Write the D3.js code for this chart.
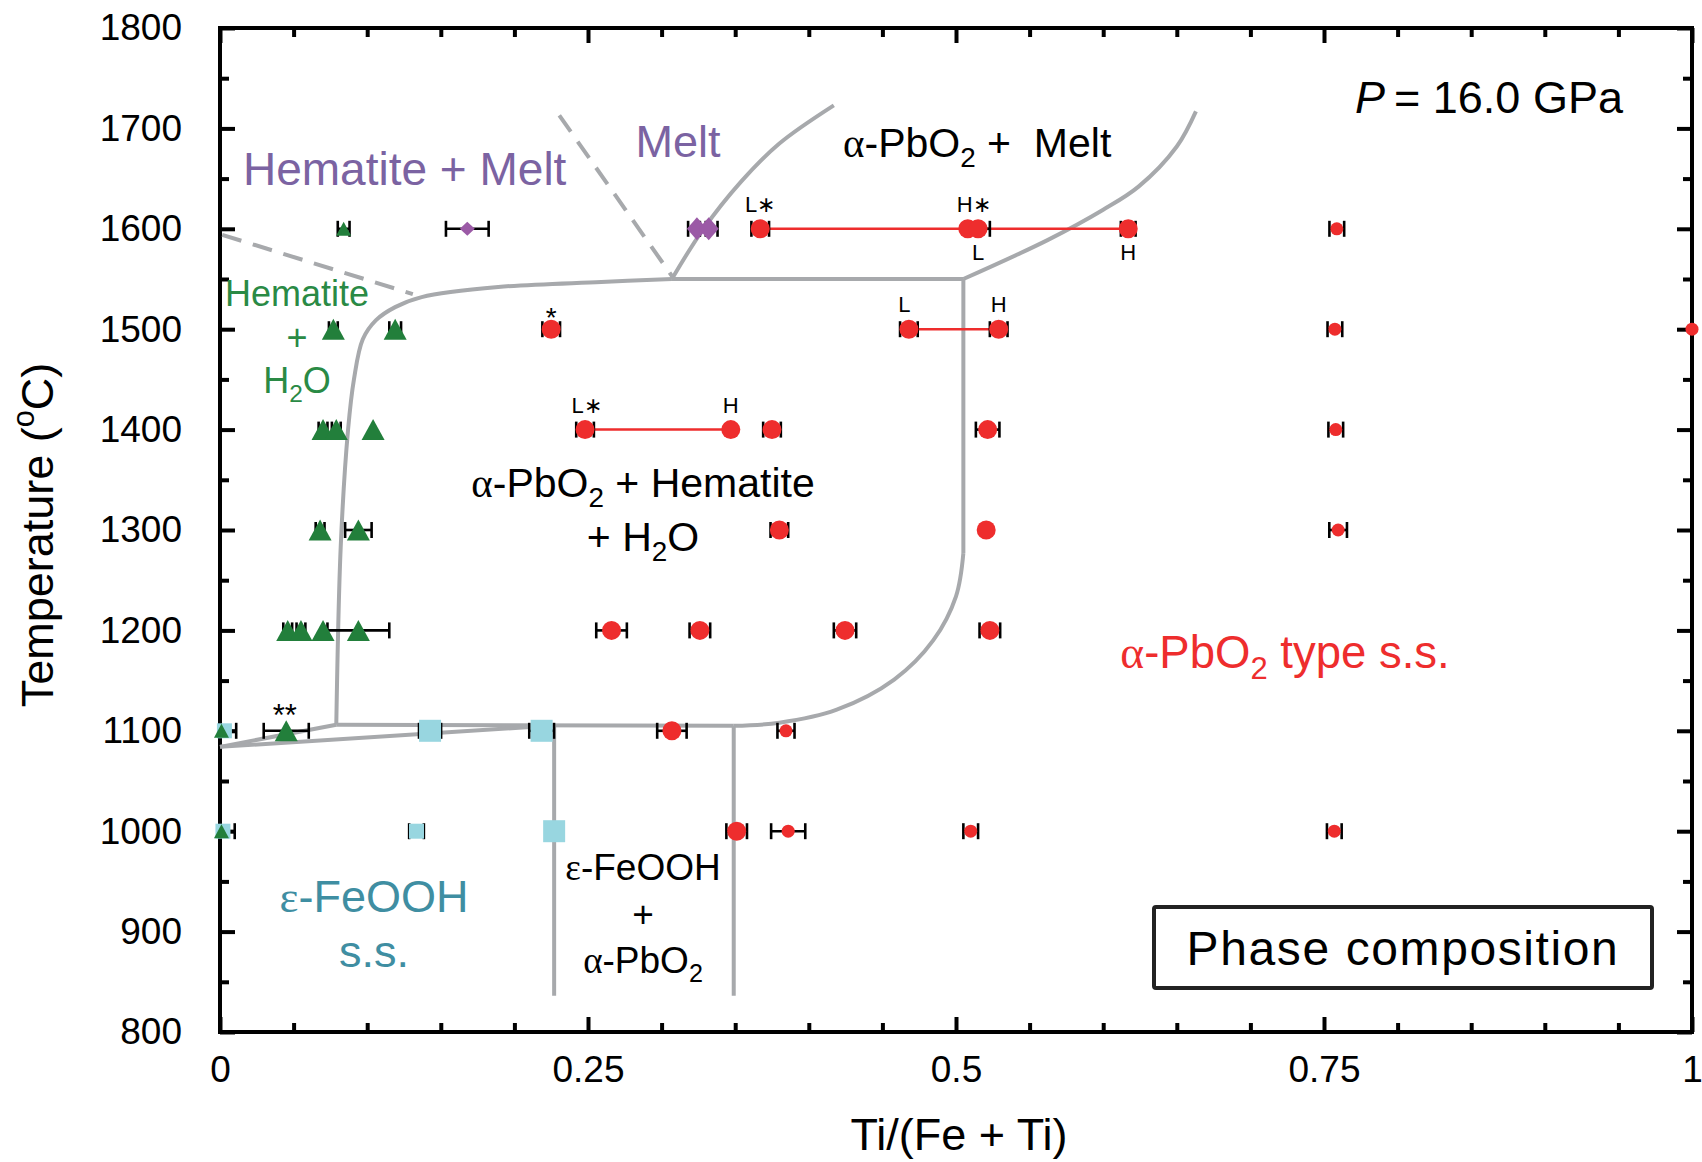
<!DOCTYPE html>
<html>
<head>
<meta charset="utf-8">
<script src="https://cdn.jsdelivr.net/npm/d3@7"></script>
<style>
  body { margin: 0; background: #fff; }
  svg text { font-family: "Liberation Sans", Arial, Helvetica, sans-serif; }
</style>
</head>
<body>
<div id="chart"></div>
<script>
// phase diagram of FeOOH - TiO2 at 16 GPa

var xMajor = [0, 0.25, 0.5, 0.75, 1];
var yMajor = [800, 900, 1000, 1100, 1200, 1300, 1400, 1500, 1600, 1700, 1800];

// points as [Ti/(Fe+Ti), T, x error]
var hematiteBig = [
    [0.077, 1500, 0.003], [0.119, 1500, 0.004],
    [0.070, 1400, 0.003], [0.079, 1400, 0.003], [0.104, 1400, 0],
    [0.068, 1300, 0.003], [0.094, 1300, 0.009],
    [0.046, 1200, 0.003], [0.055, 1200, 0.003], [0.070, 1200, 0], [0.094, 1200, 0.021],
    [0.045, 1100, 0.0153]
];
var hematiteSmall = [[0.084, 1600, 0.004], [0.001, 1100, 0], [0.001, 1000, 0]];

var meltBig = [[0.324, 1600, 0.006], [0.332, 1600, 0.006]];
var meltSmall = [[0.168, 1600, 0.0145]];

var epsBig = [[0.1427, 1100, 0.0075], [0.2185, 1100, 0.0084], [0.227, 1000, 0]];
var epsSmall = [[0.003, 1100, 0.008], [0.002, 1000, 0.008], [0.1335, 1000, 0.005]];

var alphaBig = [
    [0.367, 1600, 0.006], [0.508, 1600, 0], [0.515, 1600, 0.008], [0.617, 1600, 0.005],
    [0.225, 1500, 0.006], [0.468, 1500, 0.006], [0.529, 1500, 0.006],
    [0.248, 1400, 0.006], [0.347, 1400, 0], [0.375, 1400, 0.006], [0.5215, 1400, 0.008],
    [0.380, 1300, 0.006], [0.5205, 1300, 0],
    [0.266, 1200, 0.0104], [0.326, 1200, 0.007], [0.4246, 1200, 0.0076], [0.523, 1200, 0.007],
    [0.307, 1100, 0.01],
    [0.351, 1000, 0.007]
];
var alphaSmall = [
    [0.7587, 1600, 0.005], [0.7574, 1500, 0.005], [1.0, 1500, 0],
    [0.758, 1400, 0.005], [0.7596, 1300, 0.006],
    [0.3845, 1100, 0.0058],
    [0.386, 1000, 0.0116], [0.510, 1000, 0.005], [0.757, 1000, 0.005]
];

// tie lines [x1, x2, T]
var tieLines = [[0.367, 0.508, 1600], [0.515, 0.617, 1600], [0.468, 0.529, 1500], [0.248, 0.347, 1400]];

// point notes [x, T, text, side]
var notes = [
    [0.367, 1600, "L\u2217", "up"], [0.512, 1600, "H\u2217", "up"],
    [0.515, 1600, "L", "down"], [0.617, 1600, "H", "down"],
    [0.465, 1500, "L", "up"], [0.529, 1500, "H", "up"],
    [0.249, 1400, "L\u2217", "up"], [0.347, 1400, "H", "up"]
];
var starNotes = [[0.225, 1500, "*"], [0.044, 1100, "**"]];

// phase boundaries [x, T]
var hemBoundary = [[0.079, 1106], [0.082, 1283], [0.087, 1400], [0.091, 1450], [0.097, 1490],
    [0.106, 1509], [0.119, 1522], [0.137, 1532], [0.189, 1542], [0.259, 1547], [0.307, 1550]];
var solidus = [[0.307, 1550], [0.505, 1550]];
var meltBoundary = [[0.307, 1550], [0.328, 1599], [0.354, 1647], [0.380, 1685], [0.417, 1723]];
var alphaMeltBoundary = [[0.505, 1550], [0.5625, 1589], [0.600, 1619], [0.624, 1642], [0.650, 1682], [0.663, 1717]];
var rightVertical = [[0.505, 1550], [0.505, 1277]];
var rightCurve = [[0.505, 1277], [0.500, 1234], [0.4845, 1190], [0.458, 1151], [0.419, 1121], [0.380, 1108], [0.349, 1105]];
var bottom1100 = [[0.079, 1106], [0.349, 1105]];
var lowLeft1 = [[0, 1084], [0.079, 1106]];
var lowLeft2 = [[0, 1084], [0.213, 1104]];
var epsVertical1 = [[0.227, 1104], [0.227, 836]];
var epsVertical2 = [[0.349, 1105], [0.349, 836]];
var dashHem = [[0.0015, 1594], [0.131, 1535]];
var dashMelt = [[0.2305, 1713], [0.3075, 1552]];

var width = 1702, height = 1162;
var red = "#ee2d2d", green = "#227f3b", purple = "#9b5aa6", cyan = "#98d6e0", grey = "#a7a9ac";

var svg = d3.select("#chart").append("svg")
    .attr("width", width)
    .attr("height", height);

var x = d3.scaleLinear().domain([0, 1]).range([220, 1692]);
var y = d3.scaleLinear().domain([800, 1800]).range([1032, 28]);

svg.append("clipPath").attr("id", "plotclip").append("rect")
    .attr("x", x(0)).attr("y", y(1800))
    .attr("width", x(1) - x(0)).attr("height", y(800) - y(1800));

// axes (ticks point inward)
var xMinor = d3.range(0, 1.0001, 0.05).filter(function (d) { return Math.abs(d * 4 - Math.round(d * 4)) > 1e-6; });
var yMinor = d3.range(850, 1800, 100);

function styleAxis(g) {
    g.select(".domain").remove();
    g.selectAll(".tick line").attr("stroke", "#000").attr("stroke-width", 4);
    g.selectAll(".tick text").attr("fill", "#000").style("font-size", "37px");
}

svg.append("g").attr("transform", "translate(0," + y(800) + ")")
    .call(d3.axisBottom(x).tickValues(xMajor).tickSize(-15).tickPadding(24).tickFormat(function (d) { return String(d); }))
    .call(styleAxis);
svg.append("g").attr("transform", "translate(0," + y(800) + ")")
    .call(d3.axisBottom(x).tickValues(xMinor).tickSize(-9).tickFormat(""))
    .call(styleAxis);
svg.append("g").attr("transform", "translate(0," + y(1800) + ")")
    .call(d3.axisTop(x).tickValues(xMajor).tickSize(-15).tickFormat(""))
    .call(styleAxis);
svg.append("g").attr("transform", "translate(0," + y(1800) + ")")
    .call(d3.axisTop(x).tickValues(xMinor).tickSize(-9).tickFormat(""))
    .call(styleAxis);
svg.append("g").attr("transform", "translate(" + x(0) + ",0)")
    .call(d3.axisLeft(y).tickValues(yMajor).tickSize(-15).tickPadding(38).tickFormat(d3.format("d")))
    .call(styleAxis);
svg.append("g").attr("transform", "translate(" + x(0) + ",0)")
    .call(d3.axisLeft(y).tickValues(yMinor).tickSize(-9).tickFormat(""))
    .call(styleAxis);
svg.append("g").attr("transform", "translate(" + x(1) + ",0)")
    .call(d3.axisRight(y).tickValues(yMajor).tickSize(-15).tickFormat(""))
    .call(styleAxis);
svg.append("g").attr("transform", "translate(" + x(1) + ",0)")
    .call(d3.axisRight(y).tickValues(yMinor).tickSize(-9).tickFormat(""))
    .call(styleAxis);

svg.append("rect")
    .attr("x", x(0)).attr("y", y(1800))
    .attr("width", x(1) - x(0)).attr("height", y(800) - y(1800))
    .attr("fill", "none").attr("stroke", "#000").attr("stroke-width", 4);

// phase boundaries
var curve = d3.line().x(function (d) { return x(d[0]); }).y(function (d) { return y(d[1]); })
    .curve(d3.curveCatmullRom.alpha(0.5));
var straight = d3.line().x(function (d) { return x(d[0]); }).y(function (d) { return y(d[1]); });

var bounds = svg.append("g").attr("fill", "none").attr("stroke", grey).attr("stroke-width", 4);
[hemBoundary, meltBoundary, alphaMeltBoundary, rightCurve].forEach(function (b) {
    bounds.append("path").attr("d", curve(b));
});
[solidus, rightVertical, bottom1100, lowLeft1, lowLeft2, epsVertical1, epsVertical2].forEach(function (b) {
    bounds.append("path").attr("d", straight(b));
});
[dashHem, dashMelt].forEach(function (b) {
    bounds.append("path").attr("d", straight(b)).attr("stroke-dasharray", "20,12");
});

// tie lines
svg.append("g").selectAll("line").data(tieLines).enter().append("line")
    .attr("x1", function (d) { return x(d[0]); })
    .attr("x2", function (d) { return x(d[1]); })
    .attr("y1", function (d) { return y(d[2]); })
    .attr("y2", function (d) { return y(d[2]); })
    .attr("stroke", red).attr("stroke-width", 2.5);

// error bars
var allPts = [].concat(epsBig, epsSmall, hematiteBig, hematiteSmall, meltBig, meltSmall, alphaBig, alphaSmall)
    .filter(function (d) { return d[2] > 0; });
var eb = svg.append("g").attr("stroke", "#000").attr("stroke-width", 2.6)
    .attr("clip-path", "url(#plotclip)");
allPts.forEach(function (d) {
    var cy = y(d[1]), x1 = x(d[0] - d[2]), x2 = x(d[0] + d[2]);
    eb.append("line").attr("x1", x1).attr("x2", x2).attr("y1", cy).attr("y2", cy);
    eb.append("line").attr("x1", x1).attr("x2", x1).attr("y1", cy - 8).attr("y2", cy + 8);
    eb.append("line").attr("x1", x2).attr("x2", x2).attr("y1", cy - 8).attr("y2", cy + 8);
});

// markers
function shapePath(shape, w, h) {
    var p = d3.path();
    if (shape === "circle") {
        p.arc(0, 0, w / 2, 0, 2 * Math.PI);
    } else if (shape === "triangle") {
        p.moveTo(0, -h / 2); p.lineTo(w / 2, h / 2); p.lineTo(-w / 2, h / 2); p.closePath();
    } else if (shape === "diamond") {
        p.moveTo(0, -h / 2); p.lineTo(w / 2, 0); p.lineTo(0, h / 2); p.lineTo(-w / 2, 0); p.closePath();
    } else {
        p.rect(-w / 2, -h / 2, w, h);
    }
    return p.toString();
}

var series = [
    { data: epsBig, shape: "square", w: 22, h: 22, color: cyan },
    { data: epsSmall, shape: "square", w: 15, h: 15, color: cyan },
    { data: hematiteBig, shape: "triangle", w: 23, h: 21, color: green },
    { data: hematiteSmall, shape: "triangle", w: 15, h: 14, color: green },
    { data: meltSmall, shape: "diamond", w: 15, h: 14, color: purple },
    { data: meltBig, shape: "diamond", w: 20, h: 23, color: purple },
    { data: alphaBig, shape: "circle", w: 19, h: 19, color: red },
    { data: alphaSmall, shape: "circle", w: 13, h: 13, color: red }
];
series.forEach(function (s) {
    svg.append("g").selectAll("path").data(s.data).enter().append("path")
        .attr("d", shapePath(s.shape, s.w, s.h))
        .attr("transform", function (d) { return "translate(" + x(d[0]) + "," + y(d[1]) + ")"; })
        .attr("fill", s.color);
});

// small notes near points
svg.append("g").selectAll("text").data(notes).enter().append("text")
    .attr("x", function (d) { return x(d[0]); })
    .attr("y", function (d) { return y(d[1]) + (d[3] === "up" ? -17 : 31); })
    .attr("text-anchor", "middle")
    .style("font-size", "22px")
    .text(function (d) { return d[2]; });
svg.append("g").selectAll("text").data(starNotes).enter().append("text")
    .attr("x", function (d) { return x(d[0]); })
    .attr("y", function (d) { return y(d[1]) - (d[2].length > 1 ? 5 : 2); })
    .attr("text-anchor", "middle")
    .style("font-size", function (d) { return d[2].length > 1 ? "31px" : "28px"; })
    .text(function (d) { return d[2]; });

// rich text helper: lines of segments [text, kind]
function rich(px, py, size, color, anchor, lines, lineGap, rotate) {
    var t = svg.append("text")
        .attr("text-anchor", anchor)
        .attr("fill", color)
        .style("font-size", size + "px");
    if (rotate) {
        t.attr("transform", "translate(" + px + "," + py + ") rotate(" + rotate + ")");
        px = 0; py = 0;
    }
    lines.forEach(function (segs, li) {
        var shift = 0;
        segs.forEach(function (s, si) {
            var kind = s[1] || "";
            var target = kind === "sub" ? 0.25 * size : kind === "sup" ? -0.42 * size : 0;
            var ts = t.append("tspan").text(s[0]);
            if (si === 0) {
                ts.attr("x", px).attr("y", py + li * (lineGap || 0) + target);
                shift = target;
            } else if (target !== shift) {
                ts.attr("dy", target - shift);
                shift = target;
            }
            if (kind === "sub" || kind === "sup") ts.style("font-size", (0.68 * size) + "px");
            if (kind === "it") ts.style("font-style", "italic");
            if (kind === "gr") ts.style("font-family", "'Liberation Serif', 'DejaVu Serif', serif");
        });
    });
    return t;
}

// axis titles
rich(959, 1150, 45, "#000", "middle", [[["Ti/(Fe + Ti)"]]]);
rich(53, 535, 45, "#000", "middle", [[["Temperature ("], ["o", "sup"], ["C)"]]], 0, -90);

// region labels
var purpleText = "#7b63a2", greenText = "#2a8a45", tealText = "#3f8ea2";
rich(243, 185, 46, purpleText, "start", [[["Hematite + Melt"]]]);
rich(678, 157, 45, purpleText, "middle", [[["Melt"]]]);
rich(843, 157, 41, "#000", "start", [[["\u03b1", "gr"], ["-PbO"], ["2", "sub"], [" +\u00a0\u00a0Melt"]]]);
rich(1355, 113, 45, "#000", "start", [[["P", "it"], ["\u2009= 16.0 GPa"]]]);

rich(297, 306, 36, greenText, "middle", [[["Hematite"]], [["+"]], [["H"], ["2", "sub"], ["O"]]], 43.5);

rich(643, 497, 41, "#000", "middle", [[["\u03b1", "gr"], ["-PbO"], ["2", "sub"], [" + Hematite"]],
    [["+ H"], ["2", "sub"], ["O"]]], 54);

rich(1285, 668, 45.5, red, "middle", [[["\u03b1", "gr"], ["-PbO"], ["2", "sub"], [" type s.s."]]]);

rich(374, 912, 45, tealText, "middle", [[["\u03b5", "gr"], ["-FeOOH"]], [["s.s."]]], 55);

rich(643, 880, 37, "#000", "middle", [[["\u03b5", "gr"], ["-FeOOH"]], [["+"]],
    [["\u03b1", "gr"], ["-PbO"], ["2", "sub"]]], 46.5);

// legend box
svg.append("rect")
    .attr("x", 1154).attr("y", 907).attr("width", 498).attr("height", 81)
    .attr("rx", 2)
    .attr("fill", "#fff").attr("stroke", "#222").attr("stroke-width", 4);
rich(1403, 965, 48, "#000", "middle", [[["Phase composition"]]]).style("letter-spacing", "1.6px");
</script>
</body>
</html>
